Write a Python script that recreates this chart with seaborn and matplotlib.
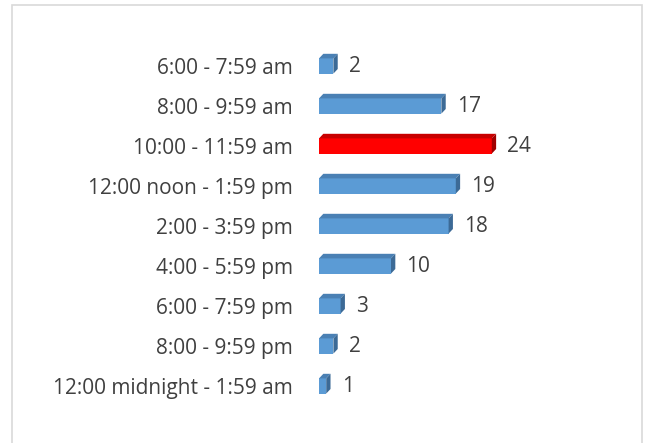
import numpy as np
import pandas as pd
import matplotlib
matplotlib.use("Agg")
import matplotlib.pyplot as plt
import seaborn as sns
from matplotlib.patches import Polygon, Rectangle

# ─────────────────────────────────────────────
# Data
# ─────────────────────────────────────────────
time_slots = [
    "6:00 - 7:59 am",
    "8:00 - 9:59 am",
    "10:00 - 11:59 am",
    "12:00 noon - 1:59 pm",
    "2:00 - 3:59 pm",
    "4:00 - 5:59 pm",
    "6:00 - 7:59 pm",
    "8:00 - 9:59 pm",
    "12:00 midnight - 1:59 am",
]
counts = [2, 17, 24, 19, 18, 10, 3, 2, 1]
highlight = "10:00 - 11:59 am"

df = pd.DataFrame({"slot": time_slots, "count": counts})
df["group"] = np.where(df["slot"] == highlight, "peak", "other")

# front / top / side shades for the fake 3-D bars
shades = {
    "other": ("#5B9BD5", "#4A80B4", "#3C6A96"),
    "peak": ("#FF0000", "#C80000", "#A00000"),
}

sns.set_theme(style="white")
plt.rcParams["font.family"] = ["Open Sans", "DejaVu Sans"]

fig = plt.figure(figsize=(6.55, 4.43), dpi=100)
W, H = 655, 443
ax = fig.add_axes([319 / W, (H - 406) / H, 216 / W, 360 / H])

sns.barplot(data=df, x="count", y="slot", hue="group", order=time_slots,
            palette={k: v[0] for k, v in shades.items()}, dodge=False,
            width=0.38, legend=False, ax=ax, saturation=1)

ax.set_xlim(0, 30)
ax.set_ylim(8.5, -0.5)

dx, dy = 0.6, 0.115
for bar in ax.patches:
    w = bar.get_width()
    if w <= 0:
        continue
    y0 = bar.get_y()
    h = bar.get_height()
    idx = int(round(y0 + h / 2))
    front, top, side = shades[df["group"].iloc[idx]]
    bar.set_edgecolor("none")
    # top face
    ax.add_patch(Polygon([(0, y0), (w, y0), (w + dx, y0 - dy), (dx, y0 - dy)],
                         closed=True, facecolor=top, edgecolor="none"))
    # side face
    ax.add_patch(Polygon([(w, y0), (w + dx, y0 - dy), (w + dx, y0 + h - dy), (w, y0 + h)],
                         closed=True, facecolor=side, edgecolor="none"))
    ax.annotate(f"{df['count'].iloc[idx]}", xy=(w + dx, y0 + h / 2),
                xytext=(8, 0), textcoords="offset points", va="center", ha="left",
                fontsize=15, color="#404040")

ax.set_xlabel("")
ax.set_ylabel("")
ax.set_xticks([])
ax.tick_params(axis="y", length=0, pad=19, labelsize=15, labelcolor="#404040")
for s in ax.spines.values():
    s.set_visible(False)

# chart-area frame
fig.patches.append(Rectangle((12 / W, -0.05), 630 / W, (H - 5) / H + 0.05,
                             transform=fig.transFigure, fill=False,
                             edgecolor="#D9D9D9", linewidth=1.2))

fig.savefig("out.png", dpi=100)
